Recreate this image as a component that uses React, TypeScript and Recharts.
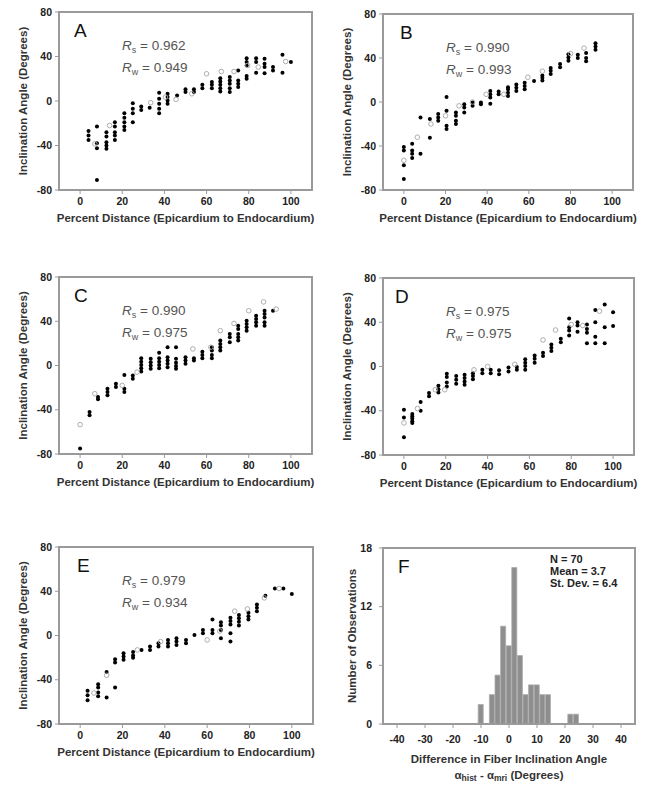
import React from 'react';
import { ScatterChart, Scatter, XAxis, YAxis, ReferenceArea, BarChart, Bar, Customized } from 'recharts';

type Pt = [number, number];

const FONT = '"Liberation Sans", Arial, Helvetica, sans-serif';
const GRAY = '#9a9a9a';

// Axis ticks
const distanceTicks = [0, 20, 40, 60, 80, 100];
const angleTicks = [-80, -40, 0, 40, 80];
const diffTicks = [-40, -30, -20, -10, 0, 10, 20, 30, 40];
const countTicks = [0, 6, 12, 18];

// Panel A
const aFilled: Pt[] = [
  [4, -27], [4, -31], [4, -35],
  [8, -23], [8, -38], [8, -42.5], [8, -71],
  [12.5, -28], [12.5, -32], [12.5, -37], [12.5, -40], [12.5, -43],
  [16.5, -19], [16.5, -23], [16.5, -28], [16.5, -31], [16.5, -35],
  [21, -11], [21, -15], [21, -19], [21, -23], [21, -26],
  [25, -2], [25, -7], [25, -11], [25, -19],
  [29, -5], [29, -8],
  [33, -6],
  [37.5, 7.5], [37.5, 2], [37.5, -2.5], [37.5, -7], [37.5, -11],
  [41.5, 6.5], [41.5, 3.5], [41.5, 0.5], [41.5, -2.5],
  [46, 5],
  [50, 10.5], [50, 8],
  [54, 10.5], [54, 8],
  [58, 14.5], [58, 11.5],
  [62.5, 17], [62.5, 14.5], [62.5, 11.5],
  [66.5, 20.5], [66.5, 17.5], [66.5, 14.5], [66.5, 11.5], [66.5, 8.5],
  [71, 21.5], [71, 18.5], [71, 15.5], [71, 11.5], [71, 8],
  [75, 27.5], [75, 18.5], [75, 15.5], [75, 12.5],
  [79, 38.5], [79, 35], [79, 32], [79, 22.5], [79, 20],
  [83.5, 38.5], [83.5, 35], [83.5, 25.5],
  [87.5, 38], [87.5, 33.5], [87.5, 30.5], [87.5, 25],
  [91.5, 30.5], [91.5, 27.5],
  [96, 41.5], [96, 25.5],
  [100, 35],
];
const aOpen: Pt[] = [
  [7, -38.5], [14, -22], [33.5, -1.5], [40.5, 3.5], [45.5, 1.5], [53, 6.5],
  [60, 24.5], [67, 26.5], [73, 26.5], [79.5, 32], [84.5, 30.5], [97.5, 35.5],
];

// Panel B
const bFilled: Pt[] = [
  [0, -41], [0, -44], [0, -57.5], [0, -70],
  [4, -38], [4, -44], [4, -47], [4, -51],
  [8, -14], [8, -47],
  [12.5, -15.5], [12.5, -32.5],
  [16.5, -11], [16.5, -14], [16.5, -17],
  [20.5, 4.5], [20.5, -8], [20.5, -21.5], [20.5, -24.5],
  [25, -9.5], [25, -12.5], [25, -17], [25, -20],
  [29, -2], [29, -5], [29, -9.5],
  [33, -0.5], [33, -3.5],
  [37, -0.5], [37, -2],
  [41.5, 10], [41.5, 7], [41.5, 4], [41.5, -1.5],
  [45.5, 9.5], [45.5, 7],
  [50, 13.5], [50, 11.5], [50, 8.5], [50, 5.5],
  [54, 16], [54, 13], [54, 10],
  [58, 17.5], [58, 14.5], [58, 11.5],
  [62.5, 19],
  [66.5, 24], [66.5, 22], [66.5, 19.5],
  [70.5, 31], [70.5, 28.5], [70.5, 25.5],
  [75, 34.5], [75, 31.5],
  [79, 43.5], [79, 40.5], [79, 37.5],
  [83.5, 43], [83.5, 40],
  [87.5, 44.5], [87.5, 40], [87.5, 37],
  [92, 53.5], [92, 50.5], [92, 47.5],
];
const bOpen: Pt[] = [
  [0, -53], [6.5, -32], [13, -20], [20, -12.5], [26.5, -3.5], [33, 0],
  [39.5, 7], [48, 7], [59.5, 22.5], [66.5, 28], [80, 44], [86.5, 49],
];

// Panel C
const cFilled: Pt[] = [
  [0, -75],
  [4.5, -42], [4.5, -45],
  [8.5, -28.5], [8.5, -30.5],
  [13, -21], [13, -24], [13, -27],
  [17, -16.5], [17, -19.5],
  [21, -8.5], [21, -21], [21, -24],
  [25, -9], [25, -12],
  [29, 6.5], [29, 3.5], [29, 0.5], [29, -2.5], [29, -5.5],
  [33.5, 6], [33.5, 3], [33.5, 0], [33.5, -3],
  [37.5, 11.5], [37.5, 6.5], [37.5, 3.5], [37.5, 0.5], [37.5, -2.5],
  [41.5, 16.5], [41.5, 7.5], [41.5, 4.5], [41.5, 1.5], [41.5, -1.5],
  [45.5, 16.5], [45.5, 6], [45.5, 2.5], [45.5, -0.5], [45.5, -3],
  [50, 7.5], [50, 4.5], [50, 1.5],
  [54, 6.5], [54, 4.5],
  [58, 12.5], [58, 9.5], [58, 6.5],
  [62.5, 16.5], [62.5, 13.5], [62.5, 9.5], [62.5, 6.5],
  [66.5, 22.5], [66.5, 19.5], [66.5, 16.5], [66.5, 13.5],
  [71, 28.5], [71, 25.5], [71, 21],
  [75, 36], [75, 33], [75, 28.5], [75, 25.5], [75, 22.5],
  [79, 40.5], [79, 37.5], [79, 34.5], [79, 31.5],
  [83.5, 45], [83.5, 42], [83.5, 39], [83.5, 36],
  [87.5, 49.5], [87.5, 46.5], [87.5, 43.5], [87.5, 39], [87.5, 36],
  [91.5, 49.5],
];
const cOpen: Pt[] = [
  [0, -53.5], [7, -25.5], [20, -18], [27, -6], [53.5, 15], [62, 16.5],
  [66.5, 31.5], [73, 38], [80, 49.5], [87, 57.5], [93, 51],
];

// Panel D
const dFilled: Pt[] = [
  [0, -39], [0, -46], [0, -64],
  [4, -43], [4, -45], [4, -47], [4, -49.5], [4, -51],
  [8, -32], [8, -40],
  [12, -24], [12, -27],
  [16.5, -17.5], [16.5, -20.5], [16.5, -23.5],
  [20.5, -6.5], [20.5, -9.5], [20.5, -14.5], [20.5, -18],
  [25, -8.5], [25, -12], [25, -15.5],
  [29, -7.5], [29, -10.5], [29, -13.5], [29, -16.5],
  [33, -6], [33, -8.5], [33, -11.5],
  [37.5, -3], [37.5, -6],
  [41.5, -3], [41.5, -6],
  [45.5, -3.5], [45.5, -7],
  [50, -1], [50, -4.5],
  [54, -0.5], [54, -3],
  [58, 6.5], [58, 3.5], [58, 0.5], [58, -3],
  [62.5, 10], [62.5, 7], [62.5, 3.5],
  [66.5, 12.5], [66.5, 9.5],
  [70.5, 20], [70.5, 17], [70.5, 14],
  [75, 25], [75, 22],
  [79, 43.5], [79, 35.5], [79, 32.5], [79, 28],
  [83, 40], [83, 37], [83, 31.5],
  [87.5, 38], [87.5, 34], [87.5, 30.5], [87.5, 21],
  [91.5, 51], [91.5, 40], [91.5, 27], [91.5, 21],
  [96, 56], [96, 35.5], [96, 21],
  [100, 49], [100, 36.5],
];
const dOpen: Pt[] = [
  [0, -51], [6.5, -38], [15, -21], [19.5, -21], [33.5, -3], [40, 0],
  [53, 2], [66.5, 24], [72.5, 33], [80, 38], [85.5, 37], [93.5, 50],
];

// Panel E
const eFilled: Pt[] = [
  [3.5, -50], [3.5, -54], [3.5, -58.5],
  [8.5, -44], [8.5, -47], [8.5, -51.5], [8.5, -55],
  [12.5, -33], [12.5, -56],
  [16.5, -21.5], [16.5, -24.5], [16.5, -47],
  [20.5, -16], [20.5, -19], [20.5, -22],
  [25, -15], [25, -18], [25, -20],
  [29, -13],
  [33, -10], [33, -13],
  [37, -7], [37, -10],
  [41.5, -4], [41.5, -7], [41.5, -10],
  [45.5, -2.5], [45.5, -5.5], [45.5, -8.5],
  [50, -4], [50, -7],
  [54, 0.5],
  [58, 5], [58, 2],
  [62.5, 14.5], [62.5, 5], [62.5, 2],
  [66.5, 12], [66.5, 9], [66.5, 5], [66.5, -2.5],
  [71, 16], [71, 13], [71, 10], [71, 2], [71, -5.5],
  [75, 18.5], [75, 15.5], [75, 12.5], [75, 9],
  [79.5, 20.5], [79.5, 17.5], [79.5, 14.5],
  [83.5, 28], [83.5, 25], [83.5, 22],
  [87.5, 36],
  [92, 42.5],
  [96, 42.5],
  [100, 37.5],
];
const eOpen: Pt[] = [
  [6.5, -52], [12.5, -36], [27, -13], [38, -5.5], [60, -4], [66, 4],
  [73, 22], [79, 24], [87, 34], [94, 42.5],
];

// Panel F histogram
const diffBins = [-10, -6, -4, -2, 0, 2, 4, 6, 8, 10, 12, 14, 22, 24];
const diffCounts = [2, 3, 5, 10, 8, 16, 7, 3, 4, 4, 3, 3, 1, 1];

const toXY = (pts: Pt[]) => pts.map(([x, y]) => ({ x, y }));

const tickStyle = { fontSize: 10.5, fontWeight: 700, fill: '#222', fontFamily: FONT };
const titleStyle = { fontSize: 11.5, fontWeight: 700, fill: '#333', fontFamily: FONT };
const statStyle = { fontSize: 11, fontWeight: 700, fill: '#222', fontFamily: FONT };

const FilledDot = (props: any) => {
  const { cx, cy } = props;
  if (cx == null || cy == null) return null;
  return <circle cx={cx} cy={cy} r={2} fill="#000" />;
};
const OpenDot = (props: any) => {
  const { cx, cy } = props;
  if (cx == null || cy == null) return null;
  return <circle cx={cx} cy={cy} r={2.3} fill="none" stroke="#a5a5a5" strokeWidth={0.9} />;
};

const YW = 36;
const XH = 40;

function PanelText(props: any) {
  const { px, py, letter, letterDx, rS, rW } = props;
  return (
    <g>
      <text x={px + letterDx} y={py + 25} fontSize={19} fontFamily={FONT} fill="#111">{letter}</text>
      <text x={px + 63} y={py + 38} fontSize={13.5} fontFamily={FONT} fill="#555">
        <tspan fontStyle="italic">R</tspan>
        <tspan fontSize={9} dy={3}>s</tspan>
        <tspan dy={-3}>{' = ' + rS}</tspan>
      </text>
      <text x={px + 63} y={py + 60} fontSize={13.5} fontFamily={FONT} fill="#555">
        <tspan fontStyle="italic">R</tspan>
        <tspan fontSize={9} dy={3}>w</tspan>
        <tspan dy={-3}>{' = ' + rW}</tspan>
      </text>
    </g>
  );
}

function ScatterPanel(p: any) {
  const margin = {
    left: p.x1 - p.left - YW,
    top: p.y1 - p.top,
    right: p.left + p.w - p.x2,
    bottom: p.top + p.h - p.y2 - XH,
  };
  return (
    <div style={{ position: 'absolute', left: p.left, top: p.top }}>
      <ScatterChart width={p.w} height={p.h} margin={margin}>
        <XAxis
          type="number" dataKey="x" domain={[-10, 110]} ticks={distanceTicks} height={XH}
          tick={tickStyle} tickSize={4} tickMargin={4}
          axisLine={{ stroke: GRAY, strokeWidth: 2 }} tickLine={{ stroke: GRAY }}
          label={{ value: 'Percent Distance (Epicardium to Endocardium)', position: 'insideBottom', offset: 8, style: titleStyle }}
        />
        <YAxis
          type="number" dataKey="y" domain={[-80, 80]} ticks={angleTicks} width={YW}
          tick={tickStyle} tickSize={4} tickMargin={3}
          axisLine={{ stroke: GRAY, strokeWidth: 2 }} tickLine={{ stroke: GRAY }}
          label={{ value: 'Inclination Angle (Degrees)', angle: -90, position: 'insideLeft', offset: 0, style: { ...titleStyle, textAnchor: 'middle' } }}
        />
        <ReferenceArea x1={-10} x2={110} y1={-80} y2={80} fill="none" stroke={GRAY} strokeWidth={2} ifOverflow="visible" />
        <Scatter data={toXY(p.filled)} shape={FilledDot} isAnimationActive={false} />
        <Scatter data={toXY(p.open)} shape={OpenDot} isAnimationActive={false} />
        <Customized
          component={
            <PanelText px={p.x1 - p.left} py={p.y1 - p.top} letter={p.letter} letterDx={p.letterDx} rS={p.rS} rW={p.rW} />
          }
        />
      </ScatterChart>
    </div>
  );
}

function FText(props: any) {
  const { px1, px2, py1, py2 } = props;
  const cx = (px1 + px2) / 2;
  return (
    <g>
      <text x={px1 + 15} y={py1 + 25} fontSize={19} fontFamily={FONT} fill="#111">F</text>
      <text x={px1 + 167} y={py1 + 15} {...(statStyle as any)}>N = 70</text>
      <text x={px1 + 167} y={py1 + 27} {...(statStyle as any)}>Mean = 3.7</text>
      <text x={px1 + 167} y={py1 + 39} {...(statStyle as any)}>St. Dev. = 6.4</text>
      <text x={cx} y={py2 + 39} textAnchor="middle" {...(titleStyle as any)}>Difference in Fiber Inclination Angle</text>
      <text x={cx} y={py2 + 55} textAnchor="middle" {...(titleStyle as any)}>
        <tspan>α</tspan>
        <tspan fontSize={8.5} dy={2}>hist</tspan>
        <tspan dy={-2}>{' - α'}</tspan>
        <tspan fontSize={8.5} dy={2}>mri</tspan>
        <tspan dy={-2}>{' (Degrees)'}</tspan>
      </text>
    </g>
  );
}

function HistPanel() {
  const left = 324, top = 520, w = 325, h = 269;
  const x1 = 383, y1 = 548, x2 = 635, y2 = 724;
  const FXH = 60;
  const margin = { left: x1 - left - YW, top: y1 - top, right: left + w - x2, bottom: top + h - y2 - FXH };
  const data = diffBins.map((b, i) => ({ bin: b, count: diffCounts[i] }));
  return (
    <div style={{ position: 'absolute', left, top }}>
      <BarChart width={w} height={h} margin={margin} data={data} barCategoryGap={0} barGap={0}>
        <XAxis
          type="number" dataKey="bin" domain={[-45, 45]} ticks={diffTicks} height={FXH}
          tick={tickStyle} tickSize={4} tickMargin={8}
          axisLine={{ stroke: GRAY, strokeWidth: 2 }} tickLine={{ stroke: GRAY }}
        />
        <YAxis
          type="number" domain={[0, 18]} ticks={countTicks} width={YW}
          tick={tickStyle} tickSize={4} tickMargin={7}
          axisLine={{ stroke: GRAY, strokeWidth: 2 }} tickLine={{ stroke: GRAY }}
          label={{ value: 'Number of Observations', angle: -90, position: 'insideLeft', offset: 5, style: { ...titleStyle, textAnchor: 'middle' } }}
        />
        <ReferenceArea x1={-45} x2={45} y1={0} y2={18} fill="none" stroke={GRAY} strokeWidth={2} ifOverflow="visible" />
        <Bar dataKey="count" fill="#8e8e8e" stroke="#ababab" strokeWidth={0.8} barSize={5.7} isAnimationActive={false} />
        <Customized component={<FText px1={x1 - left} px2={x2 - left} py1={y1 - top} py2={y2 - top} />} />
      </BarChart>
    </div>
  );
}

const scatterPanels = [
  { letter: 'A', left: 0, top: 0, w: 324, h: 255, x1: 59, y1: 12, x2: 312, y2: 190, letterDx: 15, rS: '0.962', rW: '0.949', filled: aFilled, open: aOpen },
  { letter: 'B', left: 324, top: 0, w: 325, h: 255, x1: 383, y1: 14, x2: 633, y2: 190, letterDx: 17, rS: '0.990', rW: '0.993', filled: bFilled, open: bOpen },
  { letter: 'C', left: 0, top: 260, w: 324, h: 255, x1: 59, y1: 277, x2: 312, y2: 454, letterDx: 15, rS: '0.990', rW: '0.975', filled: cFilled, open: cOpen },
  { letter: 'D', left: 324, top: 260, w: 325, h: 255, x1: 383, y1: 278, x2: 634, y2: 455, letterDx: 12, rS: '0.975', rW: '0.975', filled: dFilled, open: dOpen },
  { letter: 'E', left: 0, top: 520, w: 324, h: 269, x1: 59, y1: 547, x2: 313, y2: 724, letterDx: 18, rS: '0.979', rW: '0.934', filled: eFilled, open: eOpen },
];

export default function App() {
  return (
    <div style={{ position: 'absolute', left: 0, top: 0, width: 649, height: 789, background: '#fff', fontFamily: FONT }}>
      {scatterPanels.map((p) => (
        <ScatterPanel key={p.letter} {...p} />
      ))}
      <HistPanel />
    </div>
  );
}
